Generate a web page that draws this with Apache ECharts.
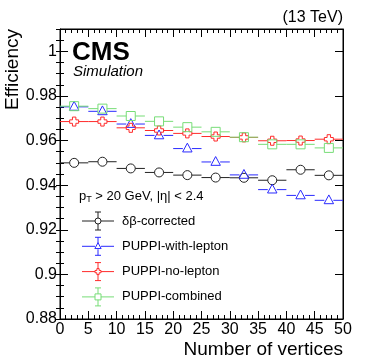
<!DOCTYPE html>
<html><head><meta charset="utf-8">
<script src="https://cdn.jsdelivr.net/npm/echarts@6/dist/echarts.min.js"></script>
<style>html,body{margin:0;padding:0;background:#fff}#c{width:374px;height:363px}</style>
</head><body><div id="c"></div>
<script>
var binCenters = [2.5, 7.5, 12.5, 17.5, 22.5, 27.5, 32.5, 37.5, 42.5, 47.5];
var binHalfWidth = 2.5;
var dbCorrected = [0.9500, 0.9505, 0.9475, 0.9457, 0.9445, 0.9434, 0.9433, 0.9422, 0.9469, 0.9444];
var puppiWithLepton = [0.9751, 0.9731, 0.9674, 0.9623, 0.9564, 0.9504, 0.9446, 0.9380, 0.9354, 0.9332];
var puppiNoLepton = [0.9685, 0.9685, 0.9657, 0.9645, 0.9632, 0.9618, 0.9614, 0.9599, 0.9600, 0.9606];
var puppiCombined = [0.9754, 0.9743, 0.9710, 0.9686, 0.9660, 0.9639, 0.9615, 0.9583, 0.9583, 0.9567];
var seriesNames = ['\u03b4\u03b2-corrected', 'PUPPI-with-lepton', 'PUPPI-no-lepton', 'PUPPI-combined'];
var xTicks = [0, 5, 10, 15, 20, 25, 30, 35, 40, 45, 50];
var yTicks = [0.88, 0.9, 0.92, 0.94, 0.96, 0.98, 1];

var colors = ['#222222', '#2a2aff', '#ff2a2a', '#77dd77'];
var markers = ['circle', 'triangle', 'cross', 'square'];
var FONT = '"Liberation Sans", Arial, sans-serif';

function markerShape(type, cx, cy, s, color) {
  var st = {stroke: color, fill: 'none', lineWidth: 1};
  if (type === 'circle') return {type: 'circle', shape: {cx: cx, cy: cy, r: s}, style: st};
  if (type === 'square') return {type: 'rect', shape: {x: cx - s, y: cy - s, width: 2 * s, height: 2 * s}, style: st};
  if (type === 'triangle') return {type: 'polygon', shape: {points: [[cx, cy - s * 1.2], [cx + s * 1.05, cy + s * 0.75], [cx - s * 1.05, cy + s * 0.75]]}, style: st};
  var a = s * 0.38, b = s;
  return {type: 'polygon', shape: {points: [[cx - a, cy - b], [cx + a, cy - b], [cx + a, cy - a], [cx + b, cy - a], [cx + b, cy + a], [cx + a, cy + a], [cx + a, cy + b], [cx - a, cy + b], [cx - a, cy + a], [cx - b, cy + a], [cx - b, cy - a], [cx - a, cy - a]]}, style: st};
}

function makeSeries(idx, values) {
  var data = binCenters.map(function (x, i) { return [x, values[i]]; });
  return {
    type: 'custom', name: seriesNames[idx], xAxisIndex: 0, yAxisIndex: 0, z: 10 + idx,
    data: data,
    renderItem: function (params, api) {
      var x = api.value(0), y = api.value(1);
      var c = api.coord([x, y]);
      var l = api.coord([x - binHalfWidth, y]);
      var r = api.coord([x + binHalfWidth, y]);
      var s = 4.5, col = colors[idx];
      var ls = {stroke: col, lineWidth: 1};
      return {type: 'group', children: [
        {type: 'line', shape: {x1: l[0], y1: c[1], x2: c[0] - s, y2: c[1]}, style: ls},
        {type: 'line', shape: {x1: c[0] + s, y1: c[1], x2: r[0], y2: c[1]}, style: ls},
        markerShape(markers[idx], c[0], c[1], s, col)
      ]};
    }
  };
}

var legendChildren = [];
var legY0 = 221, legDy = 25.3;
for (var k = 0; k < 4; k++) {
  var yy = legY0 + k * legDy, col = colors[k], cx = 98;
  legendChildren.push({type: 'line', shape: {x1: 82, y1: yy, x2: cx - 3, y2: yy}, style: {stroke: col, lineWidth: 1}});
  legendChildren.push({type: 'line', shape: {x1: cx + 3, y1: yy, x2: 114, y2: yy}, style: {stroke: col, lineWidth: 1}});
  legendChildren.push({type: 'line', shape: {x1: cx, y1: yy - 9, x2: cx, y2: yy - 3}, style: {stroke: col, lineWidth: 1}});
  legendChildren.push({type: 'line', shape: {x1: cx, y1: yy + 3, x2: cx, y2: yy + 9}, style: {stroke: col, lineWidth: 1}});
  legendChildren.push({type: 'line', shape: {x1: cx - 3, y1: yy - 9, x2: cx + 3, y2: yy - 9}, style: {stroke: col, lineWidth: 1}});
  legendChildren.push({type: 'line', shape: {x1: cx - 3, y1: yy + 9, x2: cx + 3, y2: yy + 9}, style: {stroke: col, lineWidth: 1}});
  legendChildren.push(markerShape(markers[k], cx, yy, 3, col));
  legendChildren.push({type: 'text', style: {x: 122, y: yy, text: seriesNames[k], font: '13px ' + FONT, fill: '#000', textVerticalAlign: 'middle', verticalAlign: 'middle'}});
}

var chart = echarts.init(document.getElementById('c'), null, {renderer: 'canvas'});
var lab = {fontSize: 16, fontFamily: FONT, color: '#000'};
chart.setOption({
  animation: false,
  backgroundColor: '#fff',
  grid: {left: 60, right: 31, top: 29, bottom: 44, show: true, borderColor: '#000', borderWidth: 1},
  xAxis: [
    {type: 'value', position: 'bottom', min: 0, max: 50, interval: 5,
     axisLine: {show: true, onZero: false, lineStyle: {color: '#000'}},
     axisTick: {show: true, inside: true, length: 8, lineStyle: {color: '#000'}},
     minorTick: {show: true, splitNumber: 5, length: 4, lineStyle: {color: '#000'}},
     axisLabel: Object.assign({margin: 3, formatter: function (v) { return xTicks.indexOf(v) >= 0 ? String(v) : ''; }}, lab),
     splitLine: {show: false}},
    {type: 'value', position: 'top', min: 0, max: 50, interval: 5,
     axisLine: {show: true, onZero: false, lineStyle: {color: '#000'}},
     axisTick: {show: true, inside: true, length: 8, lineStyle: {color: '#000'}},
     minorTick: {show: true, splitNumber: 5, length: 4, lineStyle: {color: '#000'}},
     axisLabel: {show: false}, splitLine: {show: false}}
  ],
  yAxis: [
    {type: 'value', position: 'left', min: 0.88, max: 1.01, interval: 0.02,
     axisLine: {show: true, onZero: false, lineStyle: {color: '#000'}},
     axisTick: {show: true, inside: true, length: 8, lineStyle: {color: '#000'}},
     axisLabel: Object.assign({margin: 3, showMaxLabel: false, formatter: function (v) {
       var r = Math.round(v * 1000) / 1000;
       for (var i = 0; i < yTicks.length; i++) if (Math.abs(yTicks[i] - r) < 1e-6) return String(yTicks[i]);
       return '';
     }}, lab),
     splitLine: {show: false}},
    {type: 'value', position: 'left', min: 0.88, max: 1.01, interval: 0.005,
     axisLine: {show: false}, axisTick: {show: true, inside: true, length: 4, lineStyle: {color: '#000'}},
     axisLabel: {show: false}, splitLine: {show: false}},
    {type: 'value', position: 'right', min: 0.88, max: 1.01, interval: 0.02,
     axisLine: {show: true, onZero: false, lineStyle: {color: '#000'}},
     axisTick: {show: true, inside: true, length: 8, lineStyle: {color: '#000'}},
     axisLabel: {show: false}, splitLine: {show: false}},
    {type: 'value', position: 'right', min: 0.88, max: 1.01, interval: 0.005,
     axisLine: {show: false}, axisTick: {show: true, inside: true, length: 4, lineStyle: {color: '#000'}},
     axisLabel: {show: false}, splitLine: {show: false}}
  ],
  series: [
    makeSeries(0, dbCorrected),
    makeSeries(1, puppiWithLepton),
    makeSeries(2, puppiNoLepton),
    makeSeries(3, puppiCombined)
  ],
  graphic: [
    {type: 'text', style: {x: 343, y: 18, text: '(13 TeV)', font: '16px ' + FONT, fill: '#000', align: 'right', verticalAlign: 'middle'}},
    {type: 'text', style: {x: 72, y: 53, text: 'CMS', font: 'bold 26px ' + FONT, fill: '#000', align: 'left', verticalAlign: 'middle'}},
    {type: 'text', style: {x: 73, y: 72, text: 'Simulation', font: 'italic 15px ' + FONT, fill: '#000', align: 'left', verticalAlign: 'middle'}},
    {type: 'text', x: 13, y: 29, rotation: Math.PI / 2, style: {x: 0, y: 0, text: 'Efficiency', font: '19px ' + FONT, fill: '#000', align: 'right', verticalAlign: 'middle'}},
    {type: 'text', style: {x: 343, y: 350, text: 'Number of vertices', font: '19px ' + FONT, fill: '#000', align: 'right', verticalAlign: 'middle'}},
    {type: 'text', style: {x: 79, y: 196, text: '{a|p}{b|T}{a| > 20 GeV, |\u03b7| < 2.4}', verticalAlign: 'middle',
      rich: {a: {font: '13px ' + FONT, fill: '#000', color: '#000'}, b: {font: '9px ' + FONT, color: '#000', padding: [8, 0, 0, 0]}}}},
    {type: 'group', children: legendChildren}
  ]
});
</script></body></html>
